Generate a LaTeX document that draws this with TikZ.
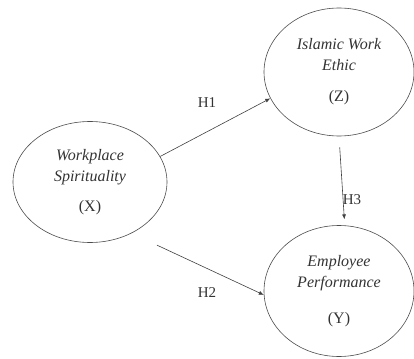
\documentclass[tikz,border=0pt]{standalone}
\usepackage{fontspec}
\setmainfont{Liberation Serif}
\usetikzlibrary{shapes.geometric, arrows.meta}

\tikzset{
	construct/.style={ellipse, draw=black!70, line width=0.6pt, align=center, inner sep=0pt,
		font=\fontsize{16}{21}\selectfont\itshape, text=black!80},
	hyp/.style={font=\fontsize{15}{18}\selectfont, text=black!80},
	path/.style={draw=black!75, line width=0.6pt, -{Latex[length=5pt,width=4pt]}}
}

\begin{document}
\begin{tikzpicture}[x=1pt, y=-1pt]
	\useasboundingbox (0,0) rectangle (414,358);

	\node[construct, minimum width=154pt, minimum height=121pt] (X) at (90,182)
		{Workplace\\Spirituality\\[9pt]\upshape(X)};
	\node[construct, minimum width=150pt, minimum height=128pt] (Z) at (339,72)
		{Islamic Work\\Ethic\\[10pt]\upshape(Z)};
	\node[construct, minimum width=150pt, minimum height=131pt] (Y) at (339,291)
		{Employee\\Performance\\[15pt]\upshape(Y)};

	\node[hyp] (h1) at (207,103) {H1};
	\node[hyp] (h2) at (207,293) {H2};
	\node[hyp] (h3) at (352,200) {H3};

	\draw[path] (X.20) -- (Z.201);
	\draw[path, shorten <=28pt] (X.-51) -- (Y.183);
	\draw[path, shorten <=11pt, shorten >=6pt] (Z.-90) -- (Y.85);
\end{tikzpicture}
\end{document}
